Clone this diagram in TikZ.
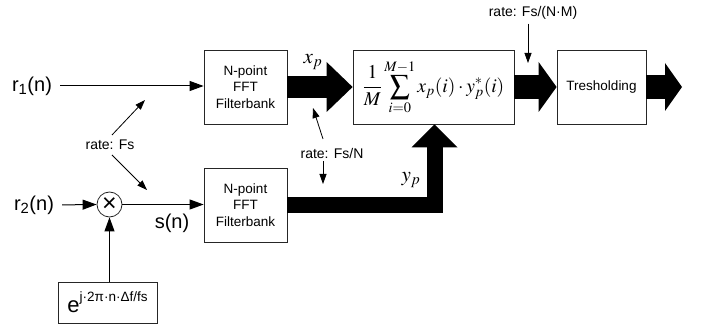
\documentclass[tikz,border=0pt]{standalone}
\usepackage{mathptmx}
\usepackage[no-math]{fontspec}
\setmainfont{Liberation Sans}
\usetikzlibrary{arrows.meta,calc}
\begin{document}
\begin{tikzpicture}[x=1pt,y=-1pt,
  blk/.style={draw=black!85, line width=0.8pt, inner sep=0pt, align=center,
    font=\fontsize{13.5}{16.5}\selectfont},
  sig/.style={line width=1pt, -{Triangle[length=14pt,width=10pt]}},
  rateln/.style={line width=0.8pt, -{Triangle[length=10pt,width=7pt]}},
  lbl/.style={font=\fontsize{14}{16}\selectfont, inner sep=1pt},
  big/.style={font=\fontsize{20}{22}\selectfont, inner sep=0pt},
  mth/.style={font=\fontsize{21}{22}\selectfont, inner sep=0pt}]
\useasboundingbox (0,0) rectangle (702,331);

% blocks
\node[blk, minimum width=83pt, minimum height=74pt] (fft1) at (245.5,87) {N-point\\FFT\\Filterbank};
\node[blk, minimum width=83pt, minimum height=74pt] (fft2) at (245.5,205) {N-point\\FFT\\Filterbank};
\node[blk, minimum width=161pt, minimum height=74pt] (sum) at (433.5,87)
  {\fontsize{19.5}{22}\selectfont$\displaystyle \frac{1}{M}\sum_{i=0}^{M-1} x_p(i)\cdot y_p^{*}(i)$};
\node[blk, minimum width=89pt, minimum height=74pt] (thr) at (601.5,87) {Tresholding};
\node[draw=black!85, line width=0.8pt, circle, minimum size=25pt, inner sep=0pt,
  font=\fontsize{25}{25}\selectfont] (mult) at (109.5,204.5) {×};
\node[blk, minimum width=99pt, minimum height=41pt] (expb) at (107.5,302.5)
  {\fontsize{22}{24}\selectfont e\raisebox{11pt}{\fontsize{13.5}{15}\selectfont j·2π·n·Δf/fs}};

% signal labels
\node[big] (r1) at (32,86) {r\textsubscript{1}(n)};
\node[big] (r2) at (34,205) {r\textsubscript{2}(n)};
\node[big] (sn) at (172,223) {s(n)};
\node[mth] (xp) at (313,62) {$x_p$};
\node[mth] (yp) at (411,180) {$y_p$};

% rate labels
\node[lbl] (rfs) at (110,145) {rate: Fs};
\node[lbl] (rfsn) at (332,153) {rate: Fs/N};
\node[lbl] (rfsnm) at (533,13) {rate: Fs/(N·M)};

% thin signal arrows
\draw[sig, shorten <=8pt] (r1.east) -- (fft1.west |- r1.east);
\draw[sig, shorten <=8pt] (r2.east) -- (mult.west);
\draw[sig] (mult.east) -- (fft2.west |- mult.east);
\draw[sig] (expb.north -| mult.south) -- (mult.south);

% rate arrows
\coordinate (fsAs) at (112,135); \coordinate (fsAe) at (145,100);
\coordinate (fsBs) at (112,155); \coordinate (fsBe) at (147,190);
\draw[rateln] (fsAs) -- (fsAe);
\draw[rateln] (fsBs) -- (fsBe);
\coordinate (fnAs) at (323,139); \coordinate (fnAe) at (313,108);
\coordinate (fnBe) at (323,184);
\draw[rateln] (fnAs) -- (fnAe);
\draw[rateln] (rfsn.south -| fnBe) ++(0,2) -- (fnBe);
\coordinate (fnmE) at (528,63);
\draw[rateln] (rfsnm.south -| fnmE) ++(0,3) -- (fnmE);

% fat data arrows
\draw[line width=22pt, -{Triangle[length=26pt,width=50pt,line width=0pt]}]
  (fft1.east) -- (sum.west);
\draw[line width=24pt, -{Triangle[length=18pt,width=50pt,line width=0pt]}]
  (sum.east) -- (thr.west);
\coordinate (outp) at (682,87);
\draw[line width=24pt, -{Triangle[length=17pt,width=48pt,line width=0pt]}]
  (thr.east) -- (outp);
\draw[line width=16pt, line join=miter, -{Triangle[length=23pt,width=46pt,line width=0pt]}]
  (fft2.east) -| ([xshift=1pt]sum.south);
\end{tikzpicture}
\end{document}
